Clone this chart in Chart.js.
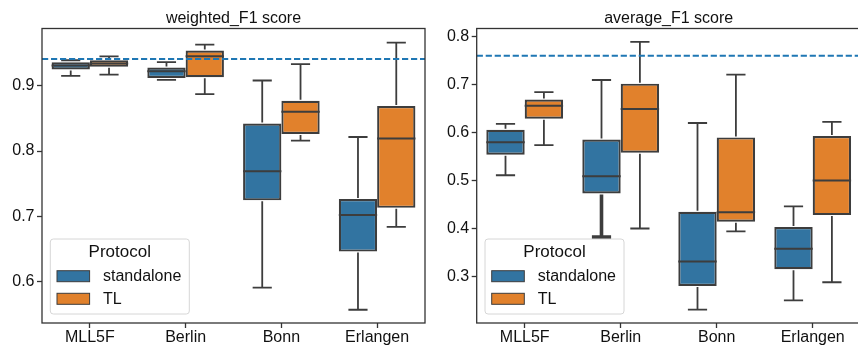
<!DOCTYPE html>
<html><head><meta charset="utf-8">
<script src="https://cdn.jsdelivr.net/npm/chart.js@4.4.0/dist/chart.umd.min.js"></script>
<style>
html,body{margin:0;padding:0;background:#fff;overflow:hidden;width:858px;height:346px;position:relative;}
canvas{position:absolute;top:0;}
#c1{left:0;} #c2{left:428px;}
</style></head><body>
<canvas id="c1" width="428" height="346"></canvas>
<canvas id="c2" width="436" height="346"></canvas>
<script>
const categories = ['MLL5F', 'Berlin', 'Bonn', 'Erlangen'];
const seriesNames = ['standalone', 'TL'];

// weighted_F1 score
const wTitle = 'weighted_F1 score';
const wStandaloneQ1   = [0.925, 0.912, 0.7245, 0.646];
const wStandaloneQ3   = [0.936, 0.928, 0.842, 0.7265];
const wStandaloneMed  = [0.931, 0.922, 0.769, 0.702];
const wStandaloneLow  = [0.915, 0.909, 0.591, 0.557];
const wStandaloneHigh = [0.939, 0.936, 0.908, 0.8215];
const wTLQ1   = [0.929, 0.913, 0.826, 0.713];
const wTLQ3   = [0.939, 0.954, 0.877, 0.869];
const wTLMed  = [0.934, 0.945, 0.860, 0.819];
const wTLLow  = [0.917, 0.887, 0.816, 0.684];
const wTLHigh = [0.945, 0.963, 0.933, 0.966];
const wRef = 0.941;
const wTicks = [0.6, 0.7, 0.8, 0.9];
const wRange = [0.5367, 0.9876];

// average_F1 score
const aTitle = 'average_F1 score';
const aStandaloneQ1   = [0.554, 0.473, 0.280, 0.315];
const aStandaloneQ3   = [0.606, 0.5856, 0.4347, 0.403];
const aStandaloneMed  = [0.580, 0.509, 0.331, 0.358];
const aStandaloneLow  = [0.511, 0.382, 0.231, 0.250];
const aStandaloneHigh = [0.618, 0.7096, 0.620, 0.446];
const aTLQ1   = [0.629, 0.558, 0.414, 0.428];
const aTLQ3   = [0.669, 0.702, 0.590, 0.593];
const aTLMed  = [0.656, 0.649, 0.434, 0.500];
const aTLLow  = [0.574, 0.400, 0.394, 0.288];
const aTLHigh = [0.6845, 0.789, 0.721, 0.6225];
const aRef = 0.760;
const aTicks = [0.3, 0.4, 0.5, 0.6, 0.7, 0.8];
const aRange = [0.203, 0.817];

const COLORS = ['#3274a1', '#e1812c'];
const EDGE = '#3d3d3d';
const FONT = '"Liberation Sans", Arial, sans-serif';

const boxPlugin = {
  id: 'boxExtras',
  afterDatasetsDraw(chart, args, opts) {
    const ctx = chart.ctx;
    const y = chart.scales.y;
    const ca = chart.chartArea;
    ctx.save();
    ctx.strokeStyle = EDGE;
    ctx.lineCap = 'butt';
    opts.stats.forEach((st, di) => {
      const meta = chart.getDatasetMeta(di);
      meta.data.forEach((bar, j) => {
        const x = bar.x, w = bar.width;
        const yq1 = y.getPixelForValue(st.q1[j]);
        const yq3 = y.getPixelForValue(st.q3[j]);
        const ylo = y.getPixelForValue(st.low[j]);
        const yhi = y.getPixelForValue(st.high[j]);
        const ym = y.getPixelForValue(st.med[j]);
        const thick = opts.thick && opts.thick[0] === di && opts.thick[1] === j;
        // lower whisker
        ctx.lineWidth = thick ? 3.6 : 1.8;
        ctx.beginPath();
        ctx.moveTo(x, yq1 + 1); ctx.lineTo(x, ylo);
        ctx.moveTo(x - w / 4, ylo); ctx.lineTo(x + w / 4, ylo);
        ctx.stroke();
        // upper whisker
        ctx.lineWidth = 1.8;
        ctx.beginPath();
        ctx.moveTo(x, yq3 - 1); ctx.lineTo(x, yhi);
        ctx.moveTo(x - w / 4, yhi); ctx.lineTo(x + w / 4, yhi);
        ctx.stroke();
        // median
        ctx.lineWidth = 2;
        ctx.beginPath();
        ctx.moveTo(x - w / 2, ym); ctx.lineTo(x + w / 2, ym);
        ctx.stroke();
      });
    });
    // reference dashed line
    const yr = y.getPixelForValue(opts.ref);
    ctx.strokeStyle = '#1f77b4';
    ctx.lineWidth = 2;
    ctx.setLineDash([6.2, 2.8]);
    ctx.beginPath();
    ctx.moveTo(ca.left, yr); ctx.lineTo(ca.right, yr);
    ctx.stroke();
    ctx.restore();
  },
  afterDraw(chart, args, opts) {
    const ctx = chart.ctx;
    const ca = chart.chartArea;
    ctx.save();
    // frame
    ctx.strokeStyle = '#333';
    ctx.lineWidth = 1.3;
    ctx.strokeRect(ca.left, ca.top, ca.right - ca.left, ca.bottom - ca.top);
    // title
    ctx.fillStyle = '#111';
    ctx.font = '16px ' + FONT;
    ctx.textAlign = 'center';
    ctx.textBaseline = 'alphabetic';
    ctx.fillText(opts.title, (ca.left + ca.right) / 2, 23.3);
    // legend
    const lx = ca.left + 8.3, ly = 239, lw = 139, lh = 75, r = 3;
    ctx.beginPath();
    ctx.moveTo(lx + r, ly);
    ctx.lineTo(lx + lw - r, ly); ctx.quadraticCurveTo(lx + lw, ly, lx + lw, ly + r);
    ctx.lineTo(lx + lw, ly + lh - r); ctx.quadraticCurveTo(lx + lw, ly + lh, lx + lw - r, ly + lh);
    ctx.lineTo(lx + r, ly + lh); ctx.quadraticCurveTo(lx, ly + lh, lx, ly + lh - r);
    ctx.lineTo(lx, ly + r); ctx.quadraticCurveTo(lx, ly, lx + r, ly);
    ctx.closePath();
    ctx.fillStyle = 'rgba(255,255,255,0.8)';
    ctx.fill();
    ctx.strokeStyle = '#d6d6d6';
    ctx.lineWidth = 1;
    ctx.stroke();
    ctx.fillStyle = '#111';
    ctx.font = '17px ' + FONT;
    ctx.textAlign = 'center';
    ctx.textBaseline = 'middle';
    ctx.fillText('Protocol', lx + lw / 2, 252.7);
    ctx.font = '16px ' + FONT;
    ctx.textAlign = 'left';
    const rows = [270.7, 293.3];
    seriesNames.forEach((name, i) => {
      ctx.fillStyle = COLORS[i];
      ctx.fillRect(lx + 6.7, rows[i], 32.6, 11);
      ctx.strokeStyle = EDGE;
      ctx.lineWidth = 1;
      ctx.strokeRect(lx + 6.7, rows[i], 32.6, 11);
      ctx.fillStyle = '#111';
      ctx.fillText(name, lx + 52.7, rows[i] + 5.8);
    });
    ctx.restore();
  }
};

function makeChart(id, title, stats, ref, ticks, range, yWidth, padRight, thick) {
  const datasets = stats.map((st, i) => ({
    label: seriesNames[i],
    data: st.q1.map((v, j) => [v, st.q3[j]]),
    backgroundColor: COLORS[i],
    borderColor: EDGE,
    borderWidth: 2.2,
    borderSkipped: false,
    barPercentage: 1.0,
    categoryPercentage: 0.8
  }));
  return new Chart(document.getElementById(id), {
    type: 'bar',
    data: { labels: categories, datasets },
    plugins: [boxPlugin],
    options: {
      responsive: false,
      animation: false,
      devicePixelRatio: 1,
      layout: { padding: { top: 28.5, right: padRight, left: 0, bottom: 0 } },
      plugins: {
        legend: { display: false },
        tooltip: { enabled: false },
        title: { display: false },
        boxExtras: { stats, ref, title, thick }
      },
      scales: {
        x: {
          type: 'category',
          offset: true,
          grid: { display: true, drawOnChartArea: false, drawTicks: true, tickLength: 5, tickColor: '#333', tickWidth: 1.3, offset: false },
          border: { display: false },
          ticks: { color: '#111', font: { size: 16, family: FONT }, padding: 0, maxRotation: 0 },
          afterFit: s => { s.height = 23; }
        },
        y: {
          type: 'linear',
          min: range[0],
          max: range[1],
          afterBuildTicks: s => { s.ticks = ticks.map(v => ({ value: v })); },
          grid: { display: true, drawOnChartArea: false, drawTicks: true, tickLength: 5, tickColor: '#333', tickWidth: 1.3 },
          border: { display: false },
          ticks: { color: '#111', font: { size: 16, family: FONT }, padding: 2.5, callback: v => v.toFixed(1) },
          afterFit: s => { s.width = yWidth; }
        }
      }
    }
  });
}

makeChart('c1', wTitle, [
  { q1: wStandaloneQ1, q3: wStandaloneQ3, med: wStandaloneMed, low: wStandaloneLow, high: wStandaloneHigh },
  { q1: wTLQ1, q3: wTLQ3, med: wTLMed, low: wTLLow, high: wTLHigh }
], wRef, wTicks, wRange, 42, 3, null);

makeChart('c2', aTitle, [
  { q1: aStandaloneQ1, q3: aStandaloneQ3, med: aStandaloneMed, low: aStandaloneLow, high: aStandaloneHigh },
  { q1: aTLQ1, q3: aTLQ3, med: aTLMed, low: aTLLow, high: aTLHigh }
], aRef, aTicks, aRange, 48.7, 3.3, [0, 1]);
</script>
</body></html>
